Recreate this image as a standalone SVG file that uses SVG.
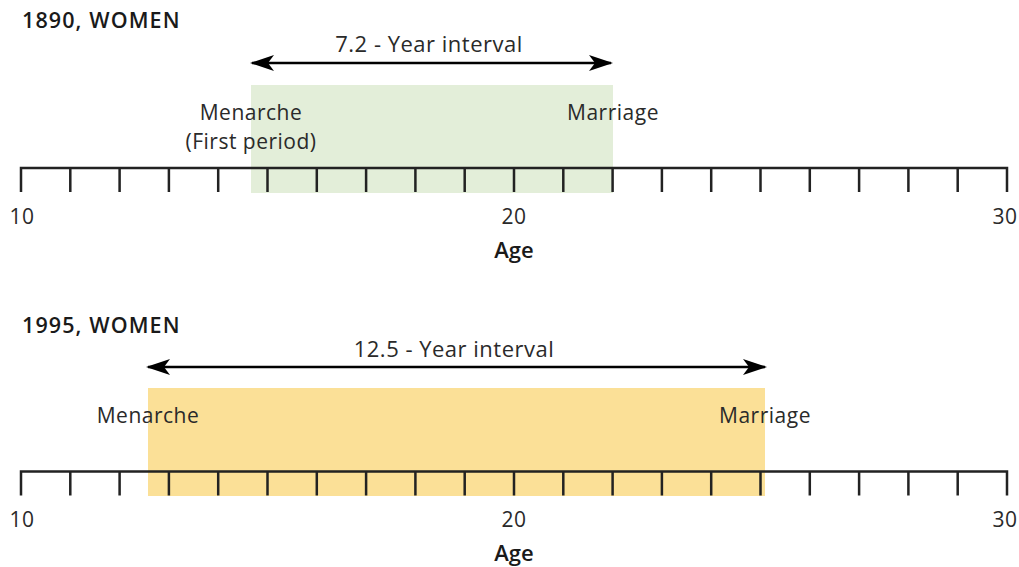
<svg xmlns="http://www.w3.org/2000/svg" width="1019" height="567" viewBox="0 0 1019 567">
<style>
text{font-family:"Open Sans","Liberation Sans",sans-serif;fill:#2a2a2a;font-size:21px;letter-spacing:0.5px}
.t{font-weight:600;fill:#1a1a1a;font-size:21.5px;letter-spacing:1.1px}
.a{font-weight:600;fill:#1a1a1a;font-size:22px;letter-spacing:0}
.l{font-size:22px}
.c{text-anchor:middle}
.ax{stroke:#222;stroke-width:2.5;fill:none}
.ar{stroke:#000;stroke-width:2.5;fill:none}
</style>
<defs>
<marker id="ah" viewBox="0 0 24 16" refX="22" refY="8" markerWidth="24" markerHeight="16" markerUnits="userSpaceOnUse" orient="auto-start-reverse">
<path d="M0,0 L24,8 L0,16 L6,8 Z" fill="#000"/>
</marker>
<g id="ticks">
<path class="ax" d="M21,192V168H1007V192M70.3,168V192M119.6,168V192M168.9,168V192M218.2,168V192M267.5,168V192M316.8,168V192M366.1,168V192M415.4,168V192M464.7,168V192M514,168V192M563.3,168V192M612.6,168V192M661.9,168V192M711.2,168V192M760.5,168V192M809.8,168V192M859.1,168V192M908.4,168V192M957.7,168V192"/>
</g>
</defs>
<g id="panel1890">
<text class="t" x="22" y="28">1890, WOMEN</text>
<rect id="band1890" x="251" y="85" width="362" height="108" fill="#e3eed9"/>
<g id="axis1890"><use href="#ticks"/></g>
<text x="251" y="120" class="c">Menarche</text>
<text x="251" y="149" class="c">(First period)</text>
<text x="613" y="120" class="c">Marriage</text>
<text x="22" y="224" class="c">10</text>
<text x="514" y="224" class="c">20</text>
<text x="1005" y="224" class="c">30</text>
<text class="a c" x="514" y="258">Age</text>
<text x="429" y="52" class="c l">7.2 - Year interval</text>
</g>
<g id="panel1995">
<text class="t" x="22" y="333">1995, WOMEN</text>
<rect id="band1995" x="148" y="388" width="617" height="108" fill="#fbe097"/>
<g id="axis1995"><use href="#ticks" transform="translate(0,303.5)"/></g>
<text x="148" y="423" class="c">Menarche</text>
<text x="765" y="423" class="c">Marriage</text>
<text x="22" y="527" class="c">10</text>
<text x="514" y="527" class="c">20</text>
<text x="1005" y="527" class="c">30</text>
<text class="a c" x="514" y="561">Age</text>
<text x="454" y="357" class="c l">12.5 - Year interval</text>
</g>
<g id="connectors">
<line class="ar" x1="252" y1="63" x2="611" y2="63" marker-start="url(#ah)" marker-end="url(#ah)"/>
<line class="ar" x1="148" y1="367" x2="765" y2="367" marker-start="url(#ah)" marker-end="url(#ah)"/>
</g>
</svg>
